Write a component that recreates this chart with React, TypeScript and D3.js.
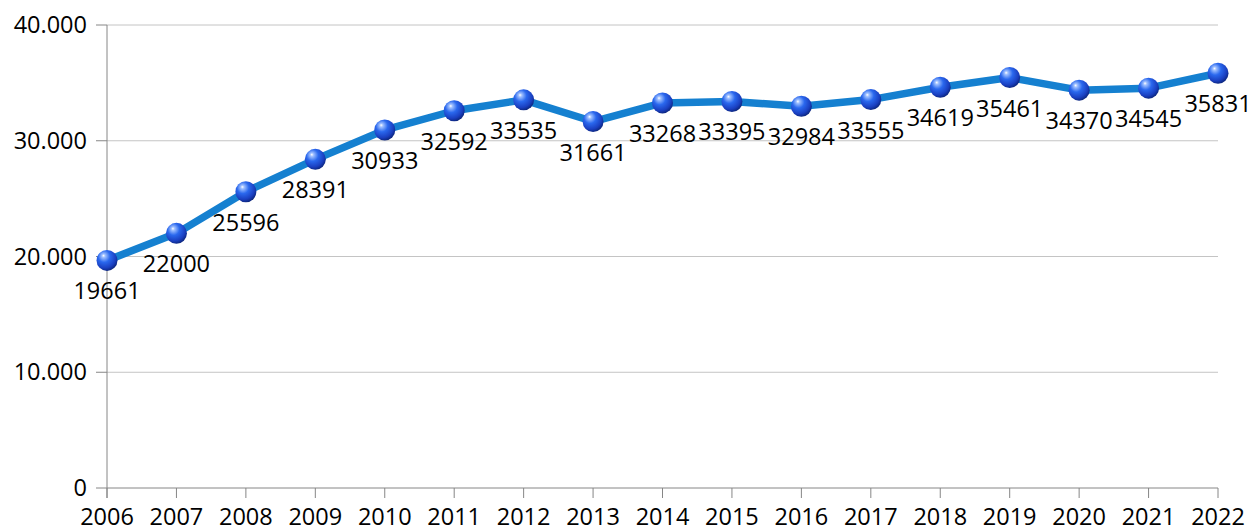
import React from "react";
import * as d3 from "d3";

const years = ["2006", "2007", "2008", "2009", "2010", "2011", "2012", "2013", "2014", "2015", "2016", "2017", "2018", "2019", "2020", "2021", "2022"];
const values = [19661, 22000, 25596, 28391, 30933, 32592, 33535, 31661, 33268, 33395, 32984, 33555, 34619, 35461, 34370, 34545, 35831];
const yTicks = [0, 10000, 20000, 30000, 40000];

const W = 1255;
const H = 531;
const left = 107;
const right = 1218;
const top = 25;
const bottom = 488;
const FONT = "'Open Sans', 'Noto Sans', sans-serif";
const FS = 23.5;

const fmt = (v: number) => (v === 0 ? "0" : d3.format(",")(v).replace(/,/g, "."));

export default function App() {
  const x = d3.scalePoint<string>().domain(years).range([left, right]);
  const y = d3.scaleLinear().domain([0, 40000]).range([bottom, top]);
  const line = d3
    .line<number>()
    .x((_, i) => x(years[i]) as number)
    .y((d) => y(d));

  return (
    <svg
      width={W}
      height={H}
      style={{ position: "absolute", left: 0, top: 0, background: "#fff" }}
      fontFamily={FONT}
    >
      <defs>
        <radialGradient id="ball" cx="0.4" cy="0.35" r="0.68" fx="0.33" fy="0.27">
          <stop offset="0" stopColor="#ffffff" />
          <stop offset="0.12" stopColor="#9fc0ff" />
          <stop offset="0.42" stopColor="#2a68ee" />
          <stop offset="0.78" stopColor="#1a3fc0" />
          <stop offset="1" stopColor="#0b2478" />
        </radialGradient>
      </defs>

      {/* horizontal gridlines */}
      {yTicks.map((t) => (
        <line key={"g" + t} x1={left} x2={right} y1={y(t)} y2={y(t)} stroke={t === 0 ? "#868686" : "#c4c4c4"} strokeWidth={1} />
      ))}

      {/* y axis */}
      <line x1={left} x2={left} y1={top} y2={bottom + 10} stroke="#868686" strokeWidth={1} />
      {yTicks.map((t) => (
        <g key={"yt" + t}>
          <line x1={left - 11} x2={left} y1={y(t)} y2={y(t)} stroke="#868686" strokeWidth={1} />
          <text x={87} y={y(t) + 8} textAnchor="end" fontSize={FS} fill="#000">
            {fmt(t)}
          </text>
        </g>
      ))}

      {/* x axis ticks and labels */}
      {years.map((yr) => (
        <g key={"xt" + yr}>
          <line x1={x(yr)} x2={x(yr)} y1={bottom} y2={bottom + 10} stroke="#868686" strokeWidth={1} />
          <text x={x(yr)} y={525} textAnchor="middle" fontSize={FS} fill="#000">
            {yr}
          </text>
        </g>
      ))}

      {/* series line */}
      <path d={line(values) || ""} fill="none" stroke="#1580d0" strokeWidth={7.5} strokeLinejoin="round" />

      {/* markers */}
      {values.map((v, i) => (
        <circle key={"m" + i} cx={x(years[i])} cy={y(v)} r={10.5} fill="url(#ball)" />
      ))}

      {/* data labels */}
      {values.map((v, i) => (
        <text key={"l" + i} x={x(years[i])} y={y(v) + 39} textAnchor="middle" fontSize={FS} fill="#000">
          {v}
        </text>
      ))}
    </svg>
  );
}
